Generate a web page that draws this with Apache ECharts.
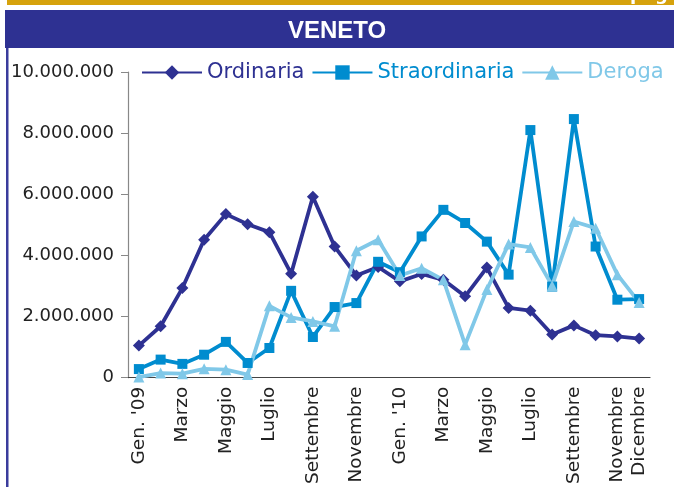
<!DOCTYPE html>
<html>
<head>
    <meta charset="utf-8"/>
    <title>Veneto</title>
    <style>
        html, body { margin: 0; padding: 0; background: #fff; }
        #container { width: 674px; height: 487px; }
    </style>
</head>
<body>
<div id="container"></div>
<script type="text/javascript" src="https://cdn.jsdelivr.net/npm/echarts@6/dist/echarts.min.js"></script>
<script type="text/javascript">

    // mesi da gennaio 2009 a dicembre 2010
    var mesi = ["Gen. '09", 'Febbraio', 'Marzo', 'Aprile', 'Maggio', 'Giugno', 'Luglio', 'Agosto',
        'Settembre', 'Ottobre', 'Novembre', 'Dicembre',
        "Gen. '10", 'Febbraio', 'Marzo', 'Aprile', 'Maggio', 'Giugno', 'Luglio', 'Agosto',
        'Settembre', 'Ottobre', 'Novembre', 'Dicembre'];

    // ore autorizzate
    var ordinaria = [1050000, 1680000, 2930000, 4510000, 5350000, 5020000, 4760000, 3400000,
        5920000, 4290000, 3340000, 3620000, 3150000, 3390000, 3200000, 2660000,
        3600000, 2280000, 2190000, 1410000, 1710000, 1390000, 1350000, 1280000];
    var straordinaria = [280000, 590000, 450000, 750000, 1170000, 480000, 970000, 2840000,
        1330000, 2310000, 2440000, 3790000, 3450000, 4620000, 5490000, 5060000,
        4450000, 3370000, 8100000, 2980000, 8460000, 4290000, 2550000, 2570000];
    var deroga = [20000, 150000, 130000, 290000, 260000, 100000, 2350000, 1970000,
        1840000, 1680000, 4150000, 4510000, 3340000, 3580000, 3200000, 1080000,
        2880000, 4370000, 4260000, 3010000, 5110000, 4890000, 3370000, 2460000];

    var yTicks = [0, 2000000, 4000000, 6000000, 8000000, 10000000];

    function puntini(v) {
        return String(v).replace(/\B(?=(\d{3})+(?!\d))/g, '.');
    }

    var dom = document.getElementById('container');
    var myChart = echarts.init(dom);

    var font = 'DejaVu Sans, Liberation Sans, sans-serif';

    var option = {
        animation: false,
        backgroundColor: '#fff',
        textStyle: { fontFamily: font },
        graphic: [
            // striscia gialla in alto
            { type: 'rect', shape: { x: 7, y: 0, width: 667, height: 5 }, style: { fill: '#d6a20c' } },
            { type: 'text', right: 6, top: -14, style: { text: 'pag', fill: '#fff', font: 'bold 18px ' + font } },
            // barra titolo
            { type: 'rect', shape: { x: 5, y: 10, width: 669, height: 38 }, style: { fill: '#2e3192' } },
            { type: 'text', left: 'center', top: 19, style: { text: 'VENETO', fill: '#fff', font: 'bold 24px Liberation Sans, Arial, sans-serif' } },
            // bordo sinistro
            { type: 'rect', shape: { x: 6, y: 48, width: 2.5, height: 439 }, style: { fill: '#3a3c9c' } }
        ],
        legend: {
            top: 62,
            left: 141,
            width: 540,
            padding: 0,
            itemWidth: 60,
            itemHeight: 18,
            itemGap: 7,
            textStyle: { fontSize: 21, fontFamily: font, color: 'inherit' },
            data: ['Ordinaria', 'Straordinaria', 'Deroga']
        },
        grid: { left: 128, right: 24, top: 72, bottom: 109, containLabel: false },
        xAxis: {
            type: 'category',
            data: mesi,
            boundaryGap: true,
            axisLine: { lineStyle: { color: '#444', width: 1.2 } },
            axisTick: { show: false },
            axisLabel: {
                rotate: 90,
                margin: 9,
                fontSize: 18.5,
                color: '#222',
                fontFamily: font,
                interval: function (index) { return index % 2 === 0 || index === 23; }
            }
        },
        yAxis: {
            type: 'value',
            min: 0,
            max: 10000000,
            interval: 2000000,
            splitLine: { show: false },
            axisLine: { show: true, lineStyle: { color: '#888', width: 1.2 } },
            axisTick: { show: true, length: 7, lineStyle: { color: '#888' } },
            axisLabel: {
                fontSize: 18,
                color: '#222',
                margin: 14,
                fontFamily: font,
                formatter: function (v) { return yTicks.indexOf(v) >= 0 ? puntini(v) : ''; }
            }
        },
        series: [
            {
                name: 'Ordinaria', type: 'line', data: ordinaria,
                symbol: 'diamond', symbolSize: 12,
                itemStyle: { color: '#2e3192' },
                lineStyle: { color: '#2e3192', width: 3.8 }
            },
            {
                name: 'Straordinaria', type: 'line', data: straordinaria,
                symbol: 'rect', symbolSize: 10,
                itemStyle: { color: '#008ccf' },
                lineStyle: { color: '#008ccf', width: 3.8 }
            },
            {
                name: 'Deroga', type: 'line', data: deroga,
                symbol: 'triangle', symbolSize: 11,
                itemStyle: { color: '#80c8e8' },
                lineStyle: { color: '#80c8e8', width: 3.8 }
            }
        ]
    };

    if (option && typeof option === 'object') {
        myChart.setOption(option, true);
    }

</script>
</body>
</html>
